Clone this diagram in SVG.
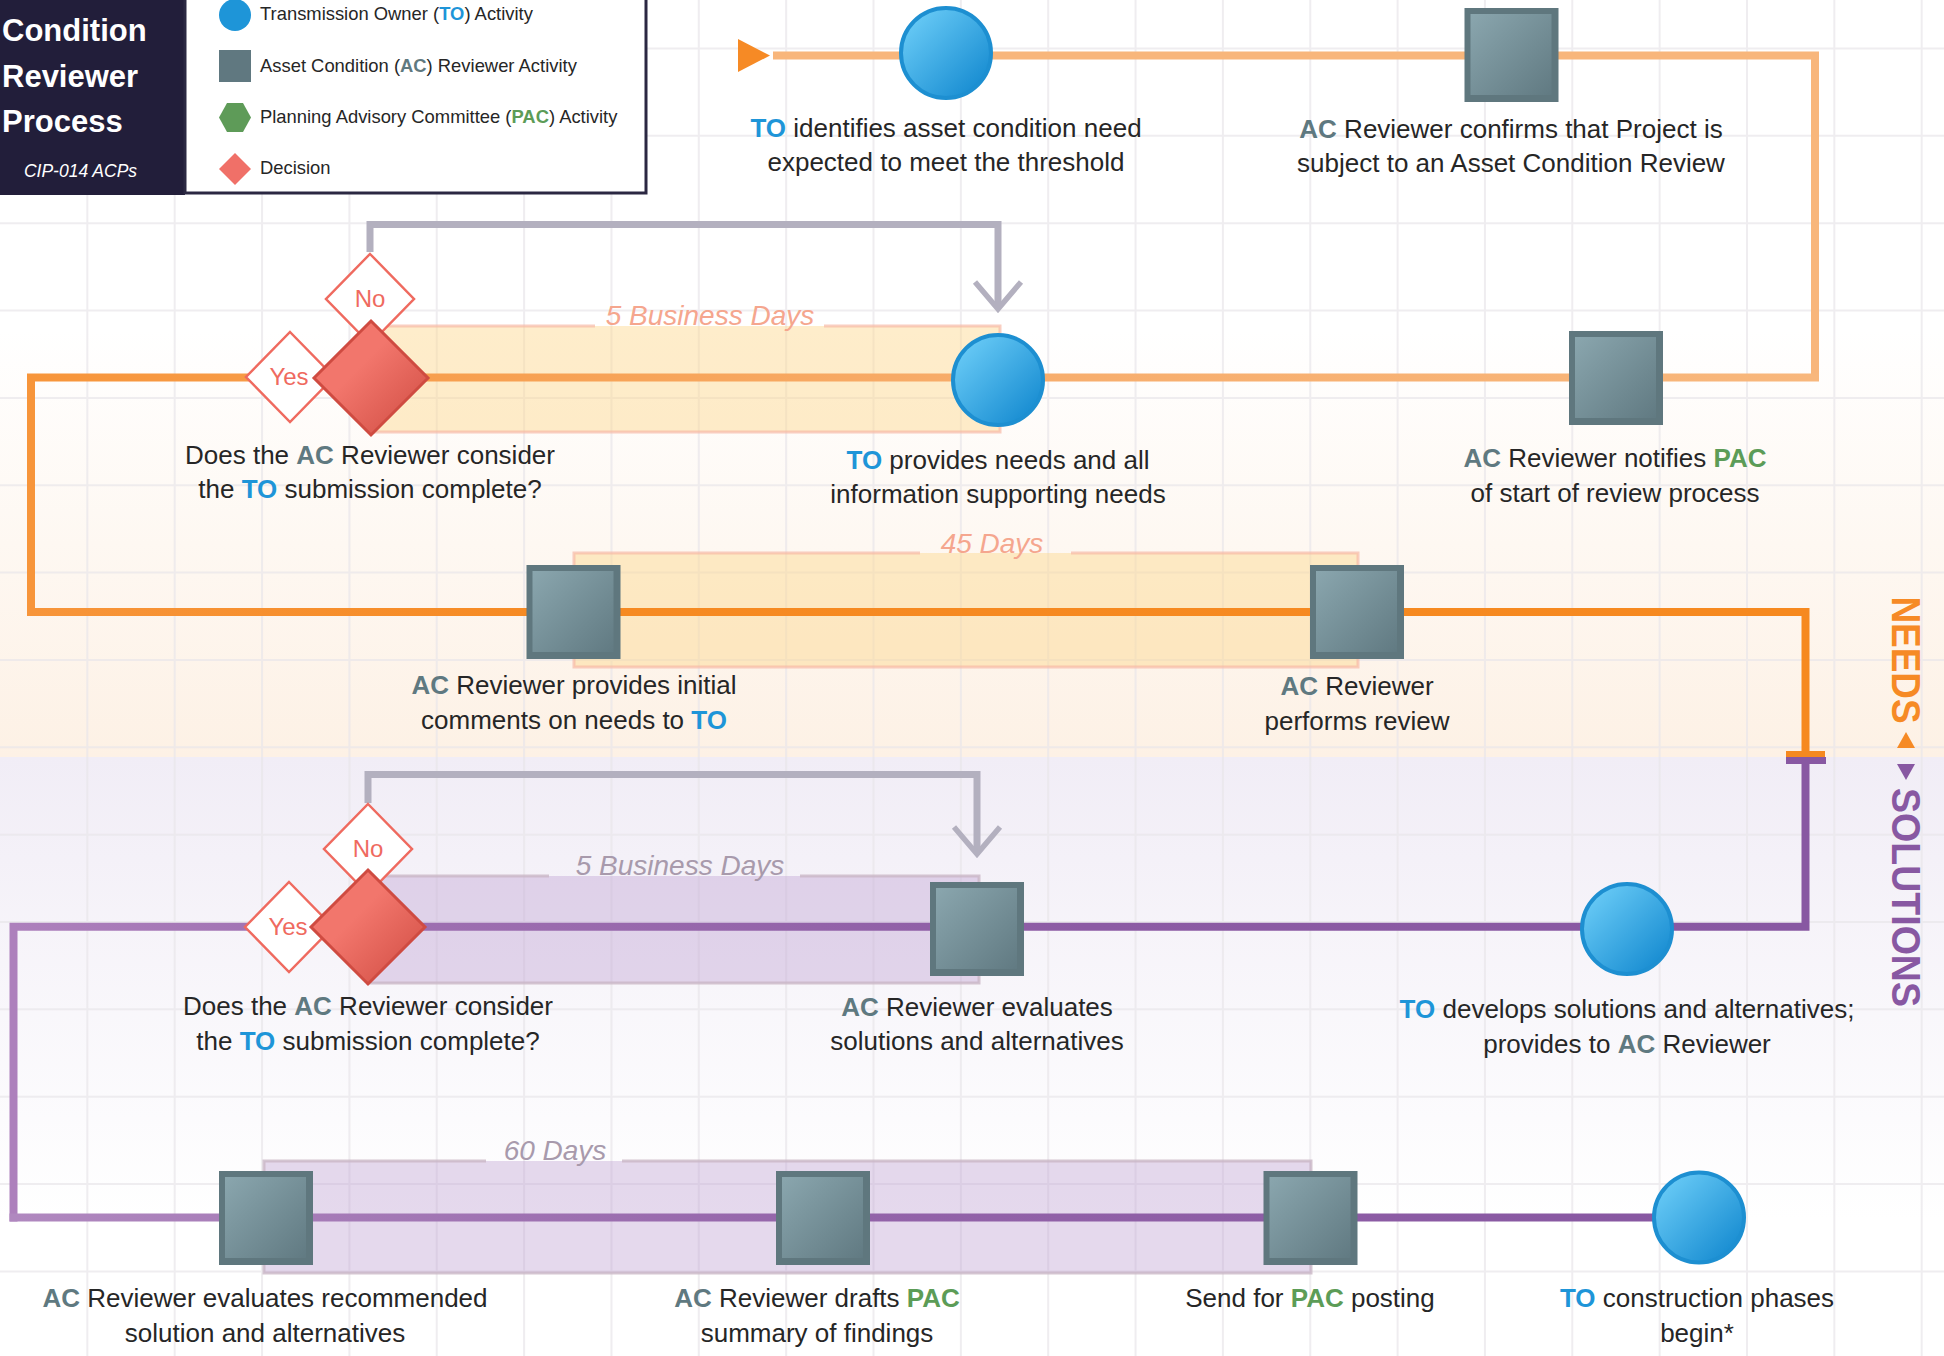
<svg xmlns="http://www.w3.org/2000/svg" width="1944" height="1356" viewBox="0 0 1944 1356">
<defs>
<style>
text{font-family:"Liberation Sans",Arial,Helvetica,sans-serif}
.t{font-size:26px;fill:#262626;text-anchor:middle}
.to{fill:#1e95d8;font-weight:bold}
.ac{fill:#5f7980;font-weight:bold}
.pac{fill:#5c9c57;font-weight:bold}
.lg{font-size:18.4px;fill:#262626}
.yn{font-size:24px;fill:#ef6a5f;text-anchor:middle}
.bl{font-size:28px;font-style:italic;text-anchor:middle}
.bn{fill:#fcd68c;fill-opacity:.45}
.bs{fill:#bea0d2;fill-opacity:.4}
.bnb{fill:none;stroke:#f6b9a7;stroke-width:3;stroke-opacity:.7}
.bsb{fill:none;stroke:#c9b6c6;stroke-width:3;stroke-opacity:.8}
.fb{fill:none;stroke:#b3b0bf;stroke-width:7}
.chev{fill:none;stroke:#b3b0bf;stroke-width:5.5}
.yd{fill:#fff;stroke:#ef6a5f;stroke-width:2.5}
.dec{fill:url(#gDec);stroke:#cf4b41;stroke-width:3}
.grid{fill:none;stroke:#e8e6ea;stroke-width:2;opacity:.7}
.ttl{font-size:31px;font-weight:bold;fill:#ffffff}
</style>
<linearGradient id="gTO" x1="0" y1="0" x2="1" y2="1"><stop offset="0.15" stop-color="#64c7f4"/><stop offset="0.85" stop-color="#1b8fd3"/></linearGradient>
<linearGradient id="gAC" x1="0" y1="0" x2="1" y2="1"><stop offset="0" stop-color="#8aa6ae"/><stop offset="1" stop-color="#617a82"/></linearGradient>
<linearGradient id="gDec" x1="0" y1="0" x2="1" y2="1"><stop offset="0.4" stop-color="#f2766c"/><stop offset="1" stop-color="#cf4b41"/></linearGradient>
<linearGradient id="gPeach" x1="0" y1="330" x2="0" y2="757" gradientUnits="userSpaceOnUse"><stop offset="0" stop-color="#fdf1e5" stop-opacity="0"/><stop offset="1" stop-color="#fdf1e5"/></linearGradient>
<linearGradient id="gLav" x1="0" y1="757" x2="0" y2="1220" gradientUnits="userSpaceOnUse"><stop offset="0" stop-color="#f1edf6"/><stop offset="1" stop-color="#f1edf6" stop-opacity="0"/></linearGradient>
<linearGradient id="gR2" x1="31" y1="0" x2="1815" y2="0" gradientUnits="userSpaceOnUse"><stop offset="0" stop-color="#f7953a"/><stop offset="0.55" stop-color="#f7ad6c"/><stop offset="1" stop-color="#f8b77c"/></linearGradient>
<linearGradient id="gR3" x1="31" y1="0" x2="1806" y2="0" gradientUnits="userSpaceOnUse"><stop offset="0" stop-color="#f7953a"/><stop offset="0.3" stop-color="#f68a22"/><stop offset="1" stop-color="#f6891f"/></linearGradient>
<linearGradient id="gR4" x1="13" y1="0" x2="1805" y2="0" gradientUnits="userSpaceOnUse"><stop offset="0" stop-color="#ad80bc"/><stop offset="0.15" stop-color="#a173b3"/><stop offset="0.6" stop-color="#8c5ba4"/><stop offset="1" stop-color="#8858a2"/></linearGradient>
<linearGradient id="gR5" x1="13" y1="0" x2="1699" y2="0" gradientUnits="userSpaceOnUse"><stop offset="0" stop-color="#b088bf"/><stop offset="0.5" stop-color="#9363a9"/><stop offset="1" stop-color="#8757a1"/></linearGradient>
<g id="acShape"><rect x="-47" y="-47" width="94" height="94" fill="#5f777e"/><rect x="-41" y="-41" width="81" height="81" fill="url(#gAC)"/></g>
<g id="toShape"><circle r="45" fill="url(#gTO)" stroke="#1d8fd1" stroke-width="4"/></g>
</defs>

<g id="background">
<rect x="0" y="0" width="1944" height="1356" fill="#ffffff"/>
<rect x="0" y="330" width="1944" height="427" fill="url(#gPeach)"/>
<rect x="0" y="757" width="1944" height="599" fill="url(#gLav)"/>
<path class="grid" d="M87.35,0V1356M174.7,0V1356M262.05,0V1356M349.4,0V1356M436.75,0V1356M524.1,0V1356M611.45,0V1356M698.8,0V1356M786.15,0V1356M873.5,0V1356M960.85,0V1356M1048.2,0V1356M1135.55,0V1356M1222.9,0V1356M1310.25,0V1356M1397.6,0V1356M1484.95,0V1356M1572.3,0V1356M1659.65,0V1356M1747,0V1356M1834.35,0V1356M1921.7,0V1356M0,48.5H1944M0,135.85H1944M0,223.2H1944M0,310.55H1944M0,397.9H1944M0,485.25H1944M0,572.6H1944M0,659.95H1944M0,747.3H1944M0,834.65H1944M0,922H1944M0,1009.35H1944M0,1096.7H1944M0,1184.05H1944M0,1271.4H1944"/>
</g>

<g id="bands">
<rect class="bn" x="370" y="326" width="630" height="106"/>
<path class="bnb" d="M824,326H1000V432H370V326H595"/>
<text class="bl" x="710" y="325" fill="#f5a68e">5 Business Days</text>
<rect class="bn" x="574" y="553" width="784" height="114"/>
<path class="bnb" d="M1071,553H1358V667H574V553H920"/>
<text class="bl" x="992" y="553" fill="#f5a68e">45 Days</text>
<rect class="bs" x="368" y="876" width="611" height="107"/>
<path class="bsb" d="M800,876H979V983H368V876H549"/>
<text class="bl" x="680" y="875" fill="#a89aac">5 Business Days</text>
<rect class="bs" x="264" y="1161" width="1047" height="112"/>
<path class="bsb" d="M622,1161H1311V1273H264V1161H486"/>
<text class="bl" x="555" y="1160" fill="#a89aac">60 Days</text>
</g>

<g id="connectors">
<polygon points="738,39 770,55.5 738,72" fill="#f68a25"/>
<path d="M773,55.5H1815V377" fill="none" stroke="#f8b67b" stroke-width="8"/>
<path d="M1819,377.5H31V616" fill="none" stroke="url(#gR2)" stroke-width="8"/>
<path d="M27,612H1805.5V751" fill="none" stroke="url(#gR3)" stroke-width="8"/>
<rect x="1786" y="751" width="39" height="6" fill="#f6891f"/>
<rect x="1786" y="757" width="40" height="7" fill="#8858a2"/>
<path d="M1805.5,764V926.7H13.5V1221.5" fill="none" stroke="url(#gR4)" stroke-width="8"/>
<path d="M9.5,1217.5H1699" fill="none" stroke="url(#gR5)" stroke-width="8"/>
<path class="fb" d="M370,252V224.5H998V306"/>
<path class="chev" d="M975,282L998,309L1021,282"/>
<path class="fb" d="M368,803V774.5H977V852"/>
<path class="chev" d="M954,827L977,854L1000,827"/>
</g>

<g id="n-to-identifies">
<use href="#toShape" x="946" y="53"/>
<text class="t" x="946" y="137"><tspan class="to">TO</tspan> identifies asset condition need</text>
<text class="t" x="946" y="171">expected to meet the threshold</text>
</g>
<g id="n-ac-confirms">
<use href="#acShape" x="1511.5" y="55"/>
<text class="t" x="1511" y="138"><tspan class="ac">AC</tspan> Reviewer confirms that Project is</text>
<text class="t" x="1511" y="172">subject to an Asset Condition Review</text>
</g>
<g id="n-ac-notifies">
<use href="#acShape" x="1616" y="378"/>
<text class="t" x="1615" y="467"><tspan class="ac">AC</tspan> Reviewer notifies <tspan class="pac">PAC</tspan></text>
<text class="t" x="1615" y="502">of start of review process</text>
</g>
<g id="n-to-provides">
<use href="#toShape" x="998" y="380"/>
<text class="t" x="998" y="469"><tspan class="to">TO</tspan> provides needs and all</text>
<text class="t" x="998" y="503">information supporting needs</text>
</g>
<g id="n-decision-1">
<polygon class="yd" points="370,254 414,299 370,344 326,299"/>
<text class="yn" x="370" y="307">No</text>
<polygon class="yd" points="290,332 334,377 290,422 246,377"/>
<text class="yn" x="289" y="385">Yes</text>
<polygon class="dec" points="371,321 428,378 371,435 314,378"/>
<text class="t" x="370" y="464">Does the <tspan class="ac">AC</tspan> Reviewer consider</text>
<text class="t" x="370" y="498">the <tspan class="to">TO</tspan> submission complete?</text>
</g>
<g id="n-ac-initial">
<use href="#acShape" x="573.5" y="612"/>
<text class="t" x="574" y="694"><tspan class="ac">AC</tspan> Reviewer provides initial</text>
<text class="t" x="574" y="729">comments on needs to <tspan class="to">TO</tspan></text>
</g>
<g id="n-ac-performs">
<use href="#acShape" x="1357" y="612"/>
<text class="t" x="1357" y="695"><tspan class="ac">AC</tspan> Reviewer</text>
<text class="t" x="1357" y="730">performs review</text>
</g>
<g id="n-to-develops">
<use href="#toShape" x="1627" y="929"/>
<text class="t" x="1627" y="1018"><tspan class="to">TO</tspan> develops solutions and alternatives;</text>
<text class="t" x="1627" y="1053">provides to <tspan class="ac">AC</tspan> Reviewer</text>
</g>
<g id="n-ac-evaluates">
<use href="#acShape" x="977" y="929"/>
<text class="t" x="977" y="1016"><tspan class="ac">AC</tspan> Reviewer evaluates</text>
<text class="t" x="977" y="1050">solutions and alternatives</text>
</g>
<g id="n-decision-2">
<polygon class="yd" points="368,804 412,849 368,894 324,849"/>
<text class="yn" x="368" y="857">No</text>
<polygon class="yd" points="289,882 333,927 289,972 245,927"/>
<text class="yn" x="288" y="935">Yes</text>
<polygon class="dec" points="368,870 425,927 368,984 311,927"/>
<text class="t" x="368" y="1015">Does the <tspan class="ac">AC</tspan> Reviewer consider</text>
<text class="t" x="368" y="1050">the <tspan class="to">TO</tspan> submission complete?</text>
</g>
<g id="n-ac-recommended">
<use href="#acShape" x="266" y="1218"/>
<text class="t" x="265" y="1307"><tspan class="ac">AC</tspan> Reviewer evaluates recommended</text>
<text class="t" x="265" y="1342">solution and alternatives</text>
</g>
<g id="n-ac-drafts">
<use href="#acShape" x="823" y="1218"/>
<text class="t" x="817" y="1307"><tspan class="ac">AC</tspan> Reviewer drafts <tspan class="pac">PAC</tspan></text>
<text class="t" x="817" y="1342">summary of findings</text>
</g>
<g id="n-ac-send">
<use href="#acShape" x="1310.5" y="1218"/>
<text class="t" x="1310" y="1307">Send for <tspan class="pac">PAC</tspan> posting</text>
</g>
<g id="n-to-construction">
<use href="#toShape" x="1699" y="1217.5"/>
<text class="t" x="1697" y="1307"><tspan class="to">TO</tspan> construction phases</text>
<text class="t" x="1697" y="1342">begin*</text>
</g>

<g id="side-label">
<text transform="translate(1892,660) rotate(90)" text-anchor="middle" font-weight="bold" font-size="40" fill="#f68a25" textLength="127" lengthAdjust="spacingAndGlyphs">NEEDS</text>
<polygon points="1897,748 1906,732 1915,748" fill="#f68a25"/>
<polygon points="1897,764 1915,764 1906,780" fill="#8858a2"/>
<text transform="translate(1892,897.5) rotate(90)" text-anchor="middle" font-weight="bold" font-size="40" fill="#8858a2" textLength="219" lengthAdjust="spacingAndGlyphs">SOLUTIONS</text>
</g>

<g id="title">
<rect x="0" y="0" width="185" height="195" fill="#221e3a"/>
<text class="ttl" x="2" y="41">Condition</text>
<text class="ttl" x="2" y="87">Reviewer</text>
<text class="ttl" x="2" y="132">Process</text>
<text x="80.5" y="177" font-size="17.5" font-style="italic" fill="#ffffff" text-anchor="middle">CIP-014 ACPs</text>
</g>

<g id="legend">
<rect x="185" y="-3" width="461" height="196" fill="#ffffff" stroke="#2b2842" stroke-width="3"/>
<circle cx="235" cy="15" r="16" fill="#1e95d8"/>
<text class="lg" x="260" y="20">Transmission Owner (<tspan class="to">TO</tspan>) Activity</text>
<rect x="219" y="50" width="32" height="32" fill="#607880"/>
<text class="lg" x="260" y="72">Asset Condition (<tspan class="ac">AC</tspan>) Reviewer Activity</text>
<polygon points="219,117.5 227,103 243,103 251,117.5 243,132 227,132" fill="#5e9b58"/>
<text class="lg" x="260" y="123">Planning Advisory Committee (<tspan class="pac">PAC</tspan>) Activity</text>
<polygon points="235,153 251,169 235,185 219,169" fill="#f07068"/>
<text class="lg" x="260" y="174">Decision</text>
</g>
</svg>
